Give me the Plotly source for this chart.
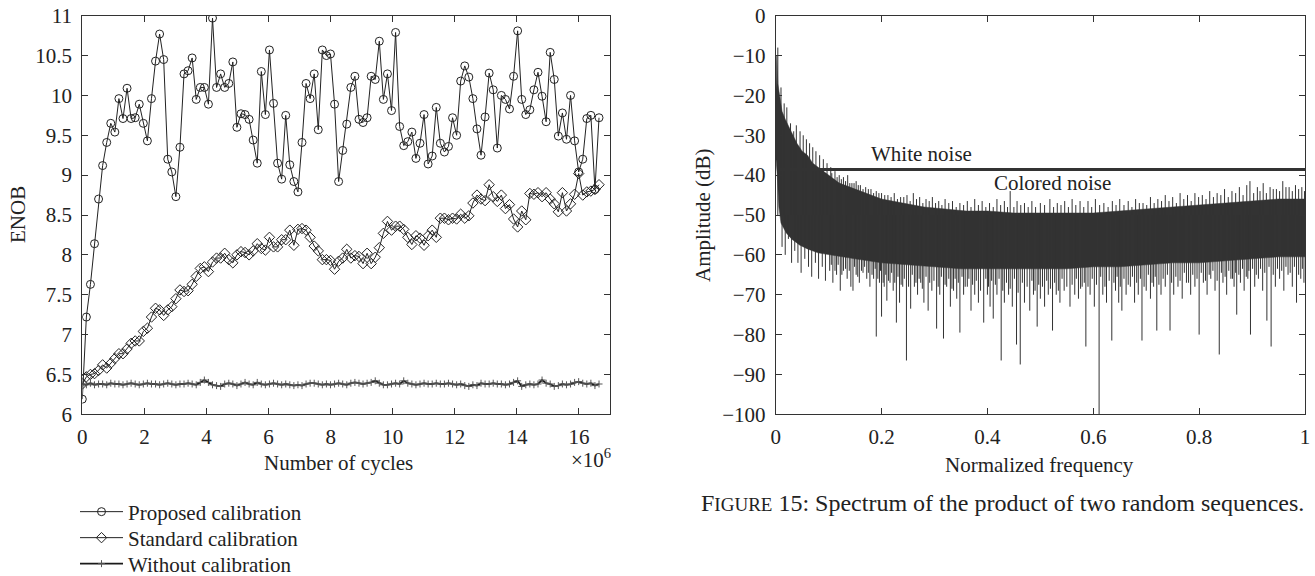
import plotly.graph_objects as go

# ---------------- data: left panel (ENOB vs cycles) ----------------
cycle_step = 131072
proposed = [6.19, 7.22, 7.63, 8.14, 8.70, 9.12, 9.41, 9.65, 9.54, 9.96,
            9.71, 10.09, 9.71, 9.72, 9.89, 9.65, 9.43, 9.96, 10.43, 10.77,
            10.45, 9.20, 9.04, 8.73, 9.35, 10.27, 10.31, 10.47, 9.95, 10.10,
            10.10, 9.89, 10.97, 10.10, 10.27, 10.10, 10.15, 10.42, 9.60, 9.77,
            9.76, 9.70, 9.44, 9.15, 10.30, 9.76, 10.57, 9.90, 9.15, 8.95,
            9.75, 9.13, 8.92, 8.79, 9.41, 10.15, 9.96, 10.27, 9.57, 10.57,
            10.50, 10.52, 9.89, 8.92, 9.31, 9.64, 10.10, 10.24, 9.70, 9.66,
            9.72, 10.24, 10.20, 10.68, 9.95, 10.27, 9.81, 10.79, 9.61, 9.37,
            9.42, 9.54, 9.21, 9.40, 9.76, 9.14, 9.24, 9.85, 9.40, 9.29,
            9.36, 9.72, 9.50, 10.18, 10.37, 10.23, 9.96, 9.58, 9.25, 9.73,
            10.28, 10.07, 9.34, 10.00, 9.95, 9.83, 10.24, 10.81, 9.95, 9.76,
            9.82, 10.07, 10.29, 9.99, 9.67, 10.54, 10.20, 9.49, 9.78, 9.45,
            10.00, 9.43, 9.04, 9.20, 9.71, 9.75, 8.82, 9.72]
standard = [6.38, 6.47, 6.50, 6.51, 6.55, 6.62, 6.58, 6.64, 6.70, 6.76,
            6.76, 6.82, 6.89, 6.92, 6.92, 7.04, 7.08, 7.22, 7.33, 7.31,
            7.24, 7.31, 7.35, 7.45, 7.56, 7.54, 7.55, 7.63, 7.73, 7.83,
            7.85, 7.79, 7.91, 7.96, 7.96, 8.02, 7.94, 7.90, 8.00, 8.04,
            8.03, 8.00, 8.05, 8.14, 8.08, 8.06, 8.22, 8.10, 8.10, 8.19,
            8.19, 8.31, 8.12, 8.32, 8.33, 8.31, 8.22, 8.11, 8.05, 7.94,
            7.94, 7.93, 7.82, 7.92, 7.96, 8.07, 7.96, 7.99, 7.98, 7.89,
            8.02, 7.89, 7.97, 8.09, 8.27, 8.42, 8.31, 8.36, 8.36, 8.32,
            8.22, 8.13, 8.24, 8.21, 8.12, 8.24, 8.31, 8.22, 8.46, 8.46,
            8.44, 8.46, 8.45, 8.51, 8.46, 8.49, 8.65, 8.75, 8.70, 8.68,
            8.88, 8.73, 8.67, 8.75, 8.58, 8.63, 8.45, 8.35, 8.55, 8.44,
            8.77, 8.76, 8.78, 8.73, 8.78, 8.70, 8.64, 8.54, 8.78, 8.55,
            8.64, 8.76, 9.02, 8.75, 8.79, 8.80, 8.82, 8.88]
without = [6.38, 6.37, 6.39, 6.37, 6.38, 6.38, 6.37, 6.39, 6.38, 6.38,
           6.37, 6.38, 6.39, 6.38, 6.37, 6.38, 6.39, 6.38, 6.38, 6.37,
           6.38, 6.39, 6.38, 6.37, 6.38, 6.38, 6.39, 6.38, 6.37, 6.40,
           6.43, 6.40, 6.37, 6.36, 6.35, 6.38, 6.39, 6.38, 6.36, 6.38,
           6.40, 6.38, 6.37, 6.40, 6.38, 6.37, 6.38, 6.39, 6.38, 6.37,
           6.38, 6.37, 6.36, 6.37, 6.36, 6.38, 6.39, 6.39, 6.38, 6.37,
           6.38, 6.37, 6.38, 6.39, 6.38, 6.37, 6.39, 6.40, 6.39, 6.38,
           6.39, 6.40, 6.42, 6.39, 6.37, 6.37, 6.38, 6.39, 6.38, 6.42,
           6.39, 6.38, 6.37, 6.38, 6.39, 6.38, 6.38, 6.39, 6.38, 6.38,
           6.39, 6.38, 6.37, 6.38, 6.36, 6.35, 6.37, 6.36, 6.39, 6.38,
           6.38, 6.39, 6.38, 6.38, 6.37, 6.38, 6.40, 6.42, 6.35, 6.37,
           6.38, 6.37, 6.38, 6.43, 6.39, 6.38, 6.35, 6.36, 6.38, 6.37,
           6.38, 6.40, 6.41, 6.39, 6.38, 6.39, 6.36, 6.38]
cycles = [k * cycle_step for k in range(len(proposed))]
x_ticks_m = [0, 2, 4, 6, 8, 10, 12, 14, 16]
y_ticks_enob = [6, 6.5, 7, 7.5, 8, 8.5, 9, 9.5, 10, 10.5, 11]

# ---------------- data: right panel (spectrum) ----------------
band_top_f = [0.000, 0.002, 0.004, 0.008, 0.012, 0.018, 0.025, 0.032, 0.040, 0.050,
              0.060, 0.070, 0.080, 0.090, 0.100, 0.120, 0.140, 0.160, 0.180, 0.200,
              0.240, 0.280, 0.320, 0.360, 0.400, 0.450, 0.500, 0.550, 0.600, 0.650,
              0.700, 0.750, 0.800, 0.850, 0.900, 0.950, 1.000]
band_top_db = [-22, -10, -17, -21, -24, -26, -28, -30, -32, -34,
               -35, -37, -38, -39, -40, -42, -43, -44, -45, -46,
               -47, -48, -48.5, -49, -49, -49.5, -49.5, -49.5, -49.5, -49,
               -48.5, -48, -47.5, -47, -46.5, -46, -46]
band_bot_f = [0.000, 0.003, 0.006, 0.010, 0.020, 0.030, 0.045, 0.060, 0.080, 0.100,
              0.150, 0.200, 0.250, 0.300, 0.350, 0.400, 0.450, 0.500, 0.550, 0.600,
              0.650, 0.700, 0.750, 0.800, 0.850, 0.900, 0.950, 1.000]
band_bot_db = [-35, -40, -48, -52, -54.5, -56, -57.5, -58.5, -59.5, -60,
               -61, -62, -62.5, -63, -63.5, -63.5, -63.5, -63.5, -63.5, -63,
               -63, -62.5, -62, -62, -61.5, -61, -60.5, -60.5]
down_f = [0.012, 0.018, 0.024, 0.030, 0.036, 0.042, 0.048, 0.055, 0.062, 0.068,
          0.075, 0.081, 0.088, 0.094, 0.102, 0.108, 0.115, 0.122, 0.128, 0.135,
          0.142, 0.146, 0.152, 0.158, 0.165, 0.172, 0.178, 0.185, 0.190, 0.196,
          0.200, 0.205, 0.210, 0.216, 0.222, 0.228, 0.234, 0.240, 0.247, 0.255,
          0.262, 0.268, 0.274, 0.280, 0.288, 0.295, 0.304, 0.310, 0.317, 0.323,
          0.330, 0.336, 0.342, 0.348, 0.355, 0.362, 0.369, 0.376, 0.383, 0.393,
          0.400, 0.405, 0.411, 0.418, 0.426, 0.432, 0.440, 0.447, 0.455, 0.462,
          0.470, 0.480, 0.487, 0.494, 0.500, 0.508, 0.515, 0.523, 0.530, 0.537,
          0.545, 0.556, 0.565, 0.572, 0.579, 0.586, 0.594, 0.602, 0.611, 0.618,
          0.625, 0.635, 0.642, 0.648, 0.654, 0.662, 0.670, 0.678, 0.685, 0.692,
          0.700, 0.708, 0.714, 0.720, 0.728, 0.736, 0.745, 0.752, 0.760, 0.768,
          0.776, 0.784, 0.792, 0.800, 0.808, 0.815, 0.822, 0.830, 0.838, 0.845,
          0.852, 0.860, 0.866, 0.871, 0.878, 0.885, 0.892, 0.897, 0.905, 0.912,
          0.920, 0.928, 0.936, 0.944, 0.952, 0.960, 0.968, 0.976, 0.984, 0.992,
          0.998]
down_db = [-58, -60, -56, -62, -59, -62, -64.5, -61, -63, -65.5,
           -62, -66, -63, -66.5, -64, -67, -65, -69, -64, -66,
           -68, -69, -65, -67, -64.5, -66, -68, -66, -80.5, -67,
           -75.5, -68, -71.5, -67, -69, -77, -72, -68, -86.5, -73.5,
           -68, -70, -67, -72, -74, -69, -78.5, -70, -81, -68,
           -73, -69, -71, -79.5, -70, -68, -74, -70, -72, -77,
           -70, -73, -76, -70, -86.5, -72, -70, -73, -82.5, -87.5,
           -72, -74, -70, -78, -71, -73, -70, -79, -70, -72,
           -69, -73, -70, -71, -68, -83, -70, -73, -100, -70,
           -72, -81.5, -69, -72, -74, -70, -68, -72, -70, -81.5,
           -69, -71, -68, -79, -70, -68, -79, -70, -68, -71,
           -67, -70, -68, -80, -67, -70, -66, -69, -85, -67,
           -70, -66, -68, -75, -67, -69, -66, -80, -68, -66,
           -69, -76.5, -83, -68, -66, -69, -65, -68, -72, -66,
           -67]
fringe_down_f = [0.105, 0.112, 0.118, 0.125, 0.132, 0.139, 0.149, 0.155, 0.162, 0.168,
                 0.175, 0.182, 0.188, 0.193, 0.198, 0.203, 0.208, 0.213, 0.219, 0.225,
                 0.231, 0.237, 0.243, 0.251, 0.258, 0.265, 0.271, 0.277, 0.284, 0.291,
                 0.299, 0.307, 0.313, 0.320, 0.327, 0.333, 0.339, 0.345, 0.352, 0.358,
                 0.365, 0.372, 0.379, 0.387, 0.397, 0.402, 0.408, 0.415, 0.422, 0.429,
                 0.436, 0.443, 0.451, 0.458, 0.466, 0.475, 0.484, 0.490, 0.497, 0.504,
                 0.512, 0.519, 0.527, 0.534, 0.541, 0.550, 0.560, 0.568, 0.576, 0.583,
                 0.590, 0.598, 0.606, 0.614, 0.622, 0.630, 0.639, 0.645, 0.651, 0.658,
                 0.666, 0.674, 0.682, 0.689, 0.696, 0.704, 0.711, 0.717, 0.724, 0.732,
                 0.740, 0.748, 0.756, 0.764, 0.772, 0.780, 0.788, 0.796, 0.804, 0.812,
                 0.819, 0.826, 0.834, 0.842, 0.849, 0.856, 0.863, 0.869, 0.875, 0.882,
                 0.889, 0.894, 0.901, 0.908, 0.916, 0.924, 0.932, 0.940, 0.948, 0.956,
                 0.964, 0.972, 0.980, 0.988, 0.995]
fringe_down_db = [-62.5, -64, -62.5, -65, -63.5, -64, -63, -65.5, -64, -63,
                  -64.5, -65, -63.5, -66, -64, -67, -65, -66.5, -64.5, -67,
                  -65.5, -67.5, -66, -68, -65, -67, -66, -68.5, -65.5, -67,
                  -66.5, -68, -65.5, -67.5, -66, -68.5, -66, -67, -65.5, -68,
                  -66, -67.5, -66.5, -69, -66, -68, -66.5, -67.5, -66, -69,
                  -67, -68.5, -66, -69.5, -67, -68, -66.5, -69, -67.5, -68,
                  -66.5, -68.5, -67, -69, -66, -68, -67.5, -66, -68.5, -67,
                  -68, -66, -67.5, -65.5, -68, -66.5, -67, -65.5, -68, -66,
                  -67.5, -65.5, -67, -66, -68, -65, -67, -65.5, -67.5, -66,
                  -65, -67, -65.5, -66.5, -64.5, -67, -65, -66, -64.5, -66.5,
                  -65, -64, -66.5, -64.5, -65.5, -64, -66, -64.5, -65, -63.5,
                  -65.5, -64, -63.5, -65, -63.5, -64.5, -63, -65, -63.5, -64,
                  -63, -64.5, -63, -65, -63.5]
up_f = [0.004, 0.010, 0.016, 0.021, 0.028, 0.034, 0.039, 0.046, 0.052, 0.058,
        0.064, 0.070, 0.076, 0.083, 0.090, 0.097, 0.104, 0.112, 0.120, 0.128,
        0.136, 0.144, 0.152, 0.160, 0.170, 0.180, 0.190, 0.200, 0.212, 0.224,
        0.236, 0.248, 0.260, 0.272, 0.284, 0.296, 0.308, 0.320, 0.334, 0.348,
        0.362, 0.376, 0.390, 0.404, 0.418, 0.432, 0.443, 0.456, 0.470, 0.484,
        0.500, 0.518, 0.532, 0.546, 0.560, 0.575, 0.590, 0.604, 0.620, 0.636,
        0.650, 0.666, 0.680, 0.694, 0.708, 0.722, 0.736, 0.750, 0.764, 0.778,
        0.792, 0.806, 0.820, 0.834, 0.848, 0.862, 0.876, 0.890, 0.896, 0.910,
        0.921, 0.934, 0.946, 0.958, 0.970, 0.982, 0.994]
up_db = [-8, -18, -22, -23, -27, -29, -27.5, -29, -30, -31,
         -32, -33, -34, -35, -36, -37, -38, -39, -40, -40.5,
         -40, -42, -41.5, -42.5, -43, -43.5, -44, -44.5, -45, -44.5,
         -45.5, -45, -44.5, -45.5, -46, -45.5, -46.5, -46, -46.5, -47,
         -46.5, -46, -46.5, -47, -46, -46.5, -44, -46.5, -47, -46.5,
         -47, -46, -47, -46.5, -46, -46.5, -46.5, -46, -47, -46.5,
         -46, -46.5, -46, -47, -45.5, -46, -45, -45.5, -44.5, -45,
         -44.5, -45, -44, -44.5, -43.5, -44, -43, -42.5, -41.5, -43,
         -42, -43, -43.5, -41.5, -43, -42.5, -43]
fringe_up_f = [0.106, 0.116, 0.124, 0.132, 0.140, 0.148, 0.156, 0.165, 0.175, 0.185,
               0.195, 0.206, 0.218, 0.230, 0.242, 0.254, 0.266, 0.278, 0.290, 0.302,
               0.314, 0.327, 0.341, 0.355, 0.369, 0.383, 0.397, 0.411, 0.425, 0.438,
               0.450, 0.463, 0.477, 0.491, 0.508, 0.525, 0.539, 0.553, 0.567, 0.582,
               0.597, 0.612, 0.628, 0.643, 0.658, 0.673, 0.687, 0.701, 0.715, 0.729,
               0.743, 0.757, 0.771, 0.785, 0.799, 0.813, 0.827, 0.841, 0.855, 0.869,
               0.883, 0.903, 0.915, 0.927, 0.940, 0.952, 0.964, 0.976, 0.988, 0.999]
fringe_up_db = [-39.5, -40.5, -41, -41.5, -42, -42, -42.5, -43.5, -43.5, -44.5,
                -44.5, -45, -45.5, -46, -45.5, -46.5, -46, -47, -46.5, -47,
                -47.5, -47, -48, -47.5, -48, -47.5, -48, -48, -47.5, -48,
                -48, -47.5, -48, -48, -47.5, -48, -47.5, -48, -47.5, -48,
                -48, -47.5, -48, -47.5, -47.5, -48, -47, -47.5, -47, -46.5,
                -46.5, -47, -46, -46.5, -45.5, -46, -45.5, -45, -45.5, -44.5,
                -45, -44.5, -44, -44.5, -43.5, -44, -43, -44, -43.5, -44]
white_noise_db = -38.6
white_noise_f = [0.008, 1.0]
f_ticks = [0, 0.2, 0.4, 0.6, 0.8, 1]
f_tick_text = ["0", "0.2", "0.4", "0.6", "0.8", "1"]

# ---------------- figure ----------------
W, H = 1315, 576
FONT = "Liberation Serif"
INK = "#222222"
SPEC = "#333333"
FS = 21


def px(x):
    return x / W


def py(y):
    return 1 - y / H


fig = go.Figure()

fig.add_trace(go.Scatter(
    x=cycles, y=proposed, mode="lines+markers", name="Proposed calibration",
    line=dict(color=INK, width=1), legend="legend",
    marker=dict(symbol="circle-open", size=8, color=INK, line=dict(width=1, color=INK)),
    xaxis="x", yaxis="y"))
fig.add_trace(go.Scatter(
    x=cycles, y=standard, mode="lines+markers", name="Standard calibration",
    line=dict(color=INK, width=1), legend="legend2",
    marker=dict(symbol="diamond-open", size=8, color=INK, line=dict(width=1, color=INK)),
    xaxis="x", yaxis="y"))
fig.add_trace(go.Scatter(
    x=cycles, y=without, mode="lines+markers", name="Without calibration",
    line=dict(color="#1a1a1a", width=1.8), legend="legend3",
    marker=dict(symbol="cross-thin", size=5, color="#555555", line=dict(width=1, color="#555555")),
    xaxis="x", yaxis="y"))

# spectrum: dense band polygon
poly_x = band_top_f + band_bot_f[::-1]
poly_y = band_top_db + band_bot_db[::-1]
fig.add_trace(go.Scatter(
    x=poly_x, y=poly_y, mode="lines", fill="toself", fillcolor=SPEC,
    line=dict(color=SPEC, width=0.5), showlegend=False, hoverinfo="skip",
    xaxis="x2", yaxis="y2"))

# spectrum spikes (drawn from inside the band to the tip)
spike_base = -50
sx, sy = [], []
for fl, dl in ((down_f, down_db), (fringe_down_f, fringe_down_db),
               (up_f, up_db), (fringe_up_f, fringe_up_db)):
    for f, d in zip(fl, dl):
        sx += [f, f, None]
        sy += [spike_base, d, None]
fig.add_trace(go.Scatter(
    x=sx, y=sy, mode="lines", line=dict(color=SPEC, width=1),
    showlegend=False, hoverinfo="skip", xaxis="x2", yaxis="y2"))

fig.add_trace(go.Scatter(
    x=white_noise_f, y=[white_noise_db] * len(white_noise_f), mode="lines",
    line=dict(color=SPEC, width=3), showlegend=False, hoverinfo="skip",
    xaxis="x2", yaxis="y2"))

axis_common = dict(
    showline=True, linecolor="#333333", linewidth=1, mirror="ticks",
    ticks="inside", ticklen=6, tickcolor="#333333", showgrid=False, zeroline=False,
    automargin=False,
    tickfont=dict(family=FONT, size=FS, color=INK),
)


def legend_at(ypix):
    return dict(x=px(75), y=py(ypix), xanchor="left", yanchor="middle",
                bgcolor="rgba(0,0,0,0)", borderwidth=0,
                font=dict(family=FONT, size=FS, color=INK), itemwidth=43)


fig.update_layout(
    width=W, height=H,
    margin=dict(l=0, r=0, t=0, b=0, autoexpand=False),
    paper_bgcolor="white", plot_bgcolor="white",
    font=dict(family=FONT, size=FS, color=INK),
    xaxis=dict(domain=[px(82.3), px(610)], range=[0, 17e6],
               tickvals=[v * 1e6 for v in x_ticks_m], ticktext=[str(v) for v in x_ticks_m],
               anchor="y", ticklabelstandoff=3, **axis_common),
    yaxis=dict(domain=[py(414.3), py(15.7)], range=[6, 11],
               tickvals=y_ticks_enob, ticktext=[f"{v:g}" for v in y_ticks_enob],
               anchor="x", ticklabelstandoff=5, **axis_common),
    xaxis2=dict(domain=[px(775.7), px(1305)], range=[0, 1],
                tickvals=f_ticks, ticktext=f_tick_text,
                anchor="y2", ticklabelstandoff=3, **axis_common),
    yaxis2=dict(domain=[py(414.3), py(15.7)], range=[-100, 0], dtick=10,
                anchor="x2", ticklabelstandoff=5, **axis_common),
    showlegend=True,
    legend=legend_at(512),
    legend2=legend_at(538),
    legend3=legend_at(564),
)

ann = [
    dict(text="ENOB", x=px(18), y=py(215), textangle=-90),
    dict(text="Number of cycles", x=px(338), y=py(463)),
    dict(text="×10<sup>6</sup>", x=px(591), y=py(458)),
    dict(text="Amplitude (dB)", x=px(703), y=py(215), textangle=-90),
    dict(text="Normalized frequency", x=px(1039), y=py(465)),
]
for a in ann:
    fig.add_annotation(xref="paper", yref="paper", showarrow=False,
                       xanchor="center", yanchor="middle",
                       font=dict(family=FONT, size=FS, color=INK), **a)

fig.add_annotation(xref="paper", yref="paper", showarrow=False,
                   xanchor="center", yanchor="middle", x=px(1002), y=py(503),
                   text="F<span style='font-size:19px'>IGURE</span> 15: Spectrum of the product of two random sequences.",
                   font=dict(family=FONT, size=24, color=INK))

fig.add_annotation(xref="x2", yref="y2", x=0.276, y=-34.6, text="White noise",
                   showarrow=False, font=dict(family=FONT, size=FS, color=INK))
fig.add_annotation(xref="x2", yref="y2", x=0.523, y=-41.9, text="Colored noise",
                   showarrow=False, font=dict(family=FONT, size=FS, color=INK))

fig.write_html("out.html",
               config={"displayModeBar": False},
               post_script="document.body.style.margin='0px';document.body.style.padding='0px';")
